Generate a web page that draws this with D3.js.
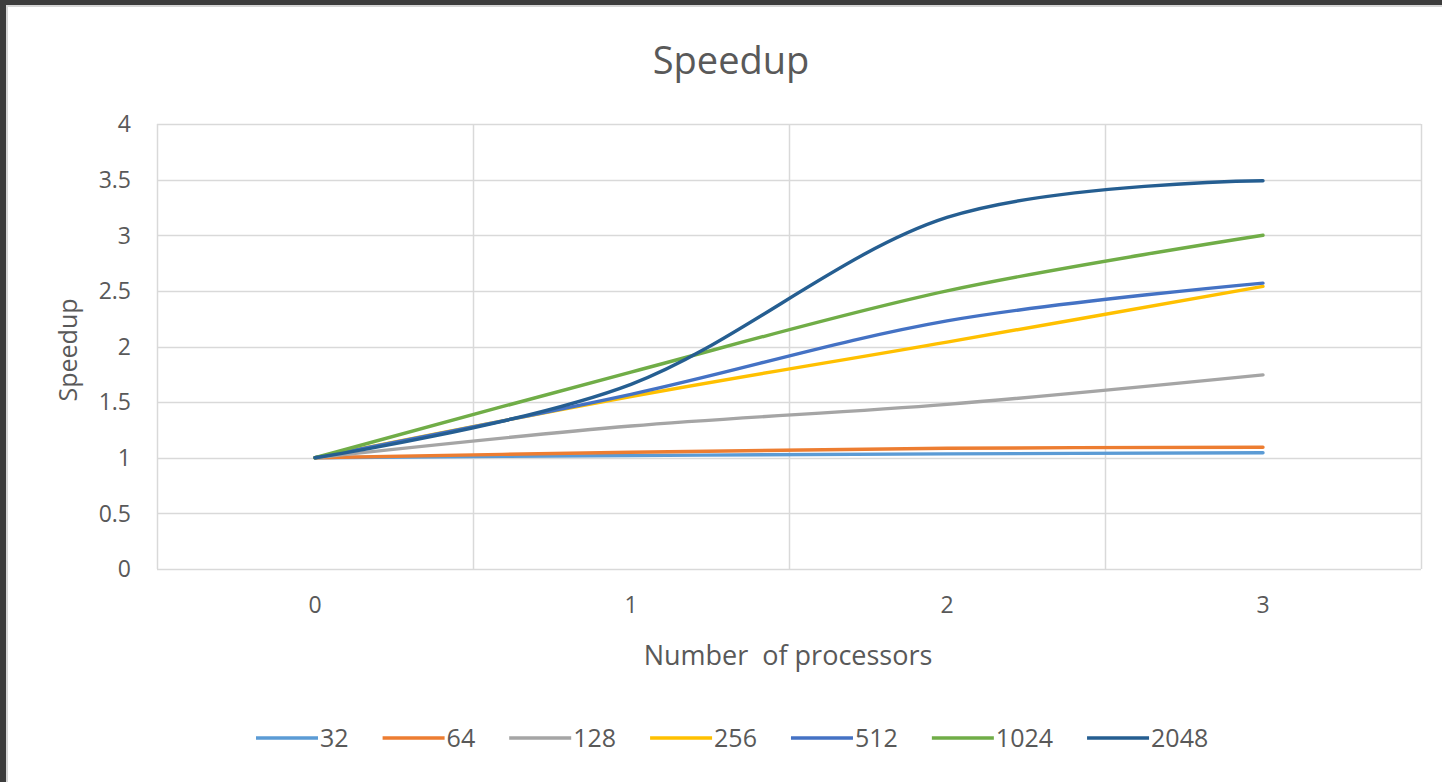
<!DOCTYPE html>
<html><head><meta charset="utf-8">
<script src="https://cdn.jsdelivr.net/npm/d3@7"></script>
<style>html,body{margin:0;padding:0;background:#3c3c3c;overflow:hidden}</style>
</head><body><svg id="c" width="1442" height="782"></svg>
<script>
const processors = [0, 1, 2, 3];
const seriesNames = ["32", "64", "128", "256", "512", "1024", "2048"];
const s32 = [1, 1.02, 1.035, 1.045];
const s64 = [1, 1.05, 1.085, 1.095];
const s128 = [1, 1.285, 1.48, 1.745];
const s256 = [1, 1.55, 2.04, 2.54];
const s512 = [1, 1.57, 2.23, 2.57];
const s1024 = [1, 1.77, 2.5, 3.0];
const s2048 = [1, 1.66, 3.16, 3.49];
const yTicks = [0, 0.5, 1, 1.5, 2, 2.5, 3, 3.5, 4];
const xGrid = [-0.5, 0.5, 1.5, 2.5, 3.5];
const colors = ["#5B9BD5", "#ED7D31", "#A5A5A5", "#FFC000", "#4472C4", "#70AD47", "#255E91"];
const allSeries = [s32, s64, s128, s256, s512, s1024, s2048];

const svg = d3.select("#c");
const font = "'Open Sans', sans-serif";
const txt = "#595959";
svg.append("rect").attr("x", 0).attr("y", 0).attr("width", 1442).attr("height", 782).attr("fill", "#3c3c3c");
svg.append("rect").attr("x", 6).attr("y", 5).attr("width", 1440).attr("height", 780).attr("fill", "#d6d6d6");
svg.append("rect").attr("x", 8).attr("y", 7).attr("width", 1440).attr("height", 780).attr("fill", "#ffffff");

const x = d3.scaleLinear().domain([-0.5, 3.5]).range([157, 1421]);
const y = d3.scaleLinear().domain([0, 4]).range([569, 124]);

const g = svg.append("g");
g.selectAll("line.h").data(yTicks).join("line")
  .attr("x1", x(-0.5)).attr("x2", x(3.5))
  .attr("y1", d => Math.round(y(d)) + 0.5).attr("y2", d => Math.round(y(d)) + 0.5)
  .attr("stroke", "#d9d9d9").attr("stroke-width", 1.5);
g.selectAll("line.v").data(xGrid).join("line")
  .attr("y1", y(0)).attr("y2", y(4))
  .attr("x1", d => Math.round(x(d)) + 0.5).attr("x2", d => Math.round(x(d)) + 0.5)
  .attr("stroke", "#d9d9d9").attr("stroke-width", 1.5);

g.selectAll("text.yt").data(yTicks).join("text")
  .attr("x", 131).attr("y", d => y(d)).attr("dy", "0.36em")
  .attr("text-anchor", "end").attr("font-family", font).attr("font-size", 23).attr("fill", txt)
  .text(d => d3.format("")(d));
g.selectAll("text.xt").data(processors).join("text")
  .attr("x", d => x(d)).attr("y", 613)
  .attr("text-anchor", "middle").attr("font-family", font).attr("font-size", 23).attr("fill", txt)
  .text(d => d);

svg.append("text").attr("x", 731).attr("y", 74).attr("text-anchor", "middle")
  .attr("font-family", font).attr("font-size", 38).attr("fill", txt).text("Speedup");
svg.append("text").attr("transform", "translate(77,350) rotate(-90)").attr("text-anchor", "middle")
  .attr("font-family", font).attr("font-size", 25).attr("fill", txt).text("Speedup");
svg.append("text").attr("x", 788).attr("y", 665).attr("text-anchor", "middle")
  .attr("font-family", font).attr("font-size", 27).attr("fill", txt).attr("xml:space", "preserve").text("Number  of processors");

const line = d3.line().x((d, i) => x(processors[i])).y(d => y(d)).curve(d3.curveCatmullRom.alpha(0));
allSeries.forEach((s, i) => {
  svg.append("path").attr("d", line(s)).attr("fill", "none")
    .attr("stroke", colors[i]).attr("stroke-width", 3.4).attr("stroke-linecap", "round");
});

const leg = svg.append("g");
let lx = 256;
seriesNames.forEach((n, i) => {
  leg.append("line").attr("x1", lx).attr("x2", lx + 62).attr("y1", 738).attr("y2", 738)
    .attr("stroke", colors[i]).attr("stroke-width", 3.4);
  const t = leg.append("text").attr("x", lx + 64).attr("y", 738).attr("dy", "0.36em")
    .attr("font-family", font).attr("font-size", 25).attr("fill", txt).text(n);
  lx += 64 + t.node().getComputedTextLength() + 34;
});
</script></body></html>
